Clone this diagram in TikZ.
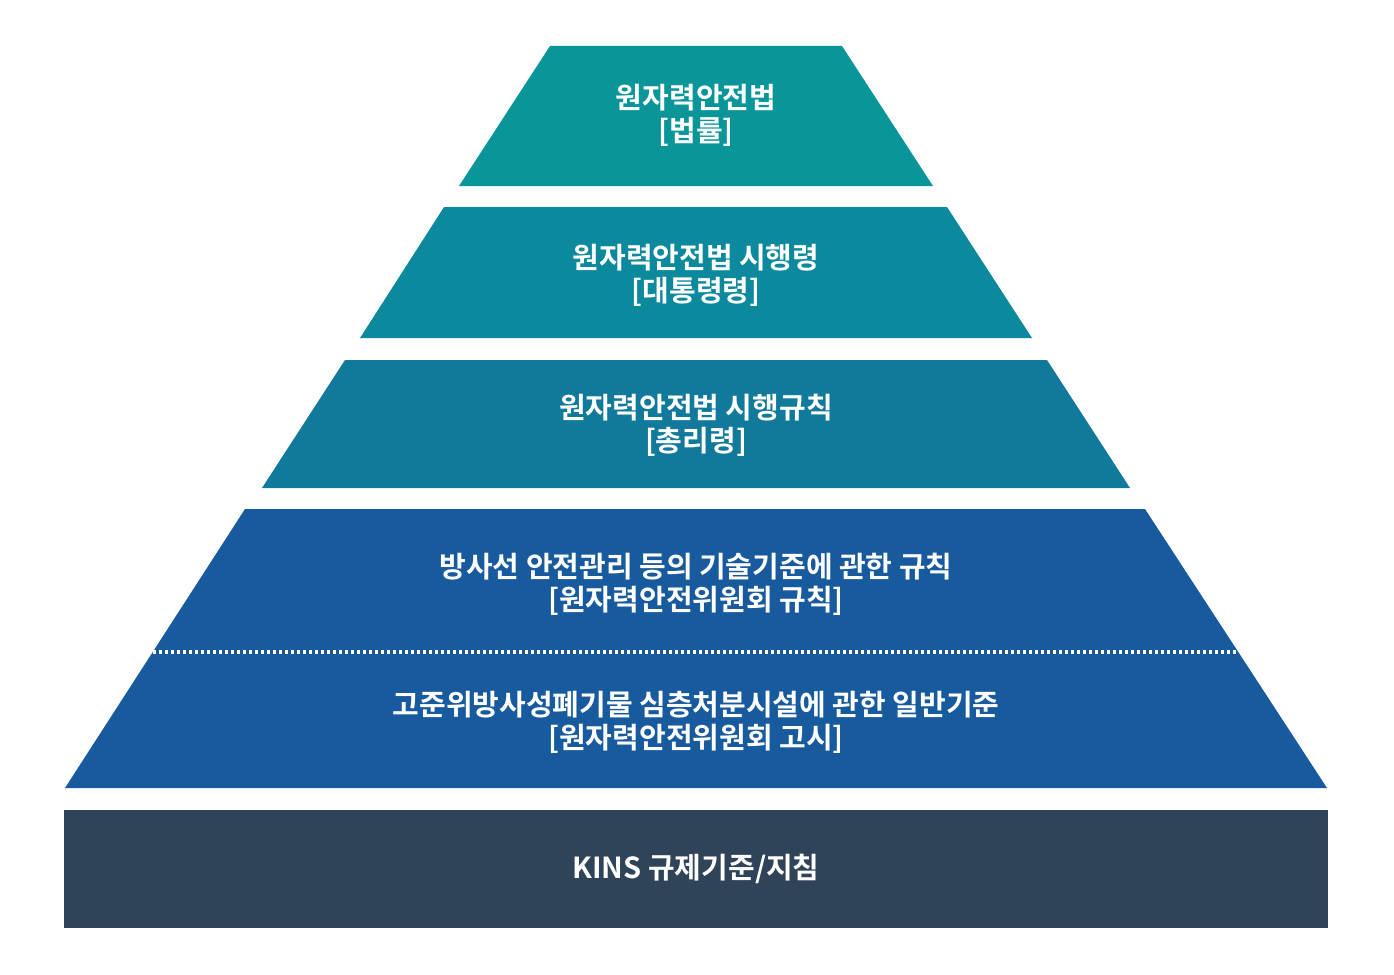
\documentclass[tikz,border=0pt]{standalone}
\usepackage{fontspec}
\newfontfamily\kr{Noto Sans CJK KR}[BoldFont={Noto Sans CJK KR Bold}]
\definecolor{tierA}{RGB}{10,150,153}
\definecolor{tierB}{RGB}{13,137,158}
\definecolor{tierC}{RGB}{17,121,156}
\definecolor{tierD}{RGB}{24,90,158}
\definecolor{baseE}{RGB}{47,67,89}
\begin{document}
\begin{tikzpicture}[x=1pt,y=-1pt,
  lbl/.style={text=white,align=center,font=\kr\bfseries\fontsize{29}{33}\selectfont,inner sep=0pt}]
\useasboundingbox (0,0) rectangle (1394,974);
% tiers
\fill[tierA] (550,46) -- (842,46) -- (933,186) -- (459,186) -- cycle;
\fill[tierB] (444,207) -- (947,207) -- (1032,338) -- (360,338) -- cycle;
\fill[tierC] (345,360) -- (1047,360) -- (1130,488) -- (262,488) -- cycle;
\fill[tierD] (245,509) -- (1145,509) -- (1327,788) -- (65,788) -- cycle;
\fill[baseE] (64,810) rectangle (1328,928);
% dotted divider
\coordinate (dl) at (153,652);
\coordinate (dr) at (1238,652);
\draw[white,line width=3.4pt,dash pattern=on 3.4pt off 2.6pt] (dl) -- (dr);
% labels
\node[lbl] (t1) at (696,115.5) {원자력안전법\\{[}법률{]}};
\node[lbl] (t2) at (696,275) {원자력안전법 시행령\\{[}대통령령{]}};
\node[lbl] (t3) at (696,425) {원자력안전법 시행규칙\\{[}총리령{]}};
\node[lbl] (t4) at (696,584) {방사선 안전관리 등의 기술기준에 관한 규칙\\{[}원자력안전위원회 규칙{]}};
\node[lbl] (t5) at (696,722) {고준위방사성폐기물 심층처분시설에 관한 일반기준\\{[}원자력안전위원회 고시{]}};
\node[lbl] (t6) at (696,869) {KINS 규제기준/지침};
\end{tikzpicture}
\end{document}
